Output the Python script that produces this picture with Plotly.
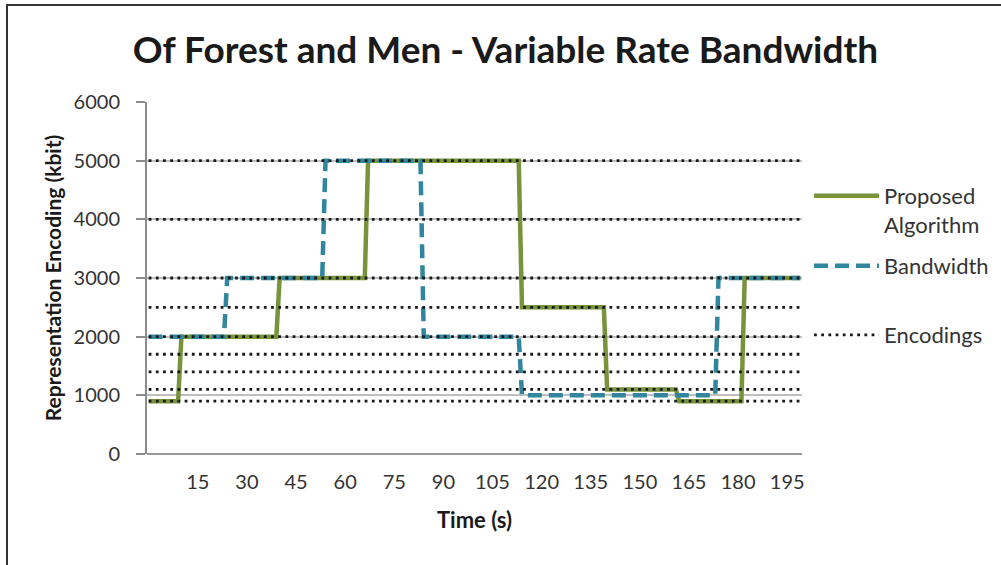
import plotly.graph_objects as go

# ---- data ----
title_text = "Of Forest and Men - Variable Rate Bandwidth"
x_tick_labels = [15, 30, 45, 60, 75, 90, 105, 120, 135, 150, 165, 180, 195]

proposed_t = [0, 9, 10, 39, 40, 66, 67, 113, 114, 139, 140, 161, 162, 181, 182, 199]
proposed_v = [900, 900, 2000, 2000, 3000, 3000, 5000, 5000, 2500, 2500, 1100, 1100, 900, 900, 3000, 3000]

bandwidth_t = [0, 23, 24, 53, 54, 83, 84, 113, 114, 173, 174, 199]
bandwidth_v = [2000, 2000, 3000, 3000, 5000, 5000, 2000, 2000, 1000, 1000, 3000, 3000]

encodings = [900, 1100, 1400, 1700, 2000, 2500, 3000, 4000, 5000]
t_start, t_end = 0, 199

# ---- build ----
enc_x, enc_y = [], []
for e in encodings:
    enc_x += [t_start, t_end, None]
    enc_y += [e, e, None]

FONT = "Lato"
TXT = "#333333"
GREEN = "#77933C"
BLUE = "#31859C"

fig = go.Figure()
fig.add_trace(go.Scatter(x=proposed_t, y=proposed_v, mode="lines", name="Proposed<br>Algorithm",
                         line=dict(color=GREEN, width=4.5), legend="legend"))
fig.add_trace(go.Scatter(x=bandwidth_t, y=bandwidth_v, mode="lines", name="Bandwidth",
                         line=dict(color=BLUE, width=4.5, dash="14px,7px"), legend="legend2"))
fig.add_trace(go.Scatter(x=enc_x, y=enc_y, mode="lines", name="Encodings",
                         line=dict(color="#1a1a1a", width=2.8, dash="2.8px,4.4px"), legend="legend3"))

W, H = 1001, 565
L, R, T, B = 147, 802, 102, 454

def px(xp):
    return (xp - L) / (R - L)

def py(yp):
    return (B - yp) / (B - T)

leg_common = dict(xanchor="left", bgcolor="rgba(0,0,0,0)", font=dict(family=FONT, size=22, color=TXT),
                  itemwidth=65, valign="top")

fig.update_layout(
    width=W, height=H,
    margin=dict(l=L, r=W - R, t=T, b=H - B, autoexpand=False),
    paper_bgcolor="white", plot_bgcolor="white",
    font=dict(family=FONT, color=TXT),
    title=dict(text="<b>" + title_text + "</b>", x=0.505, xanchor="center", y=1 - 50 / H, yanchor="middle",
               font=dict(family=FONT, size=37, color="#1a1a1a")),
    showlegend=True,
    legend=dict(x=px(809), y=py(175), yanchor="top", **leg_common),
    legend2=dict(x=px(809), y=py(266), yanchor="middle", **leg_common),
    legend3=dict(x=px(809), y=py(335), yanchor="middle", **leg_common),
    xaxis=dict(range=[-0.5, 199.5], tickvals=x_tick_labels, ticktext=[str(v) for v in x_tick_labels],
               showgrid=False, zeroline=False, showline=False, ticks="",
               tickfont=dict(family=FONT, size=20, color=TXT), ticklabelstandoff=14,
               title=dict(text="<b>Time (s)</b>", font=dict(family=FONT, size=22, color="#1a1a1a"), standoff=20)),
    yaxis=dict(range=[0, 6000], dtick=1000, showgrid=True, gridcolor="#BFBFBF", gridwidth=1.5,
               zeroline=True, zerolinecolor="#999999", zerolinewidth=1.5,
               showline=True, linecolor="#8C8C8C", linewidth=2, ticks="outside", ticklen=9,
               tickcolor="#8C8C8C", tickwidth=1.5,
               tickfont=dict(family=FONT, size=20, color=TXT), ticklabelstandoff=12,
               title=dict(text="<b>Representation Encoding (kbit)</b>",
                          font=dict(family=FONT, size=21, color="#1a1a1a"), standoff=6)),
    shapes=[dict(type="rect", xref="paper", yref="paper",
                 x0=px(7), x1=px(1012), y0=py(580), y1=py(5),
                 line=dict(color="#333333", width=2), fillcolor="rgba(0,0,0,0)", layer="above")],
)

fig.write_html("out.html")
